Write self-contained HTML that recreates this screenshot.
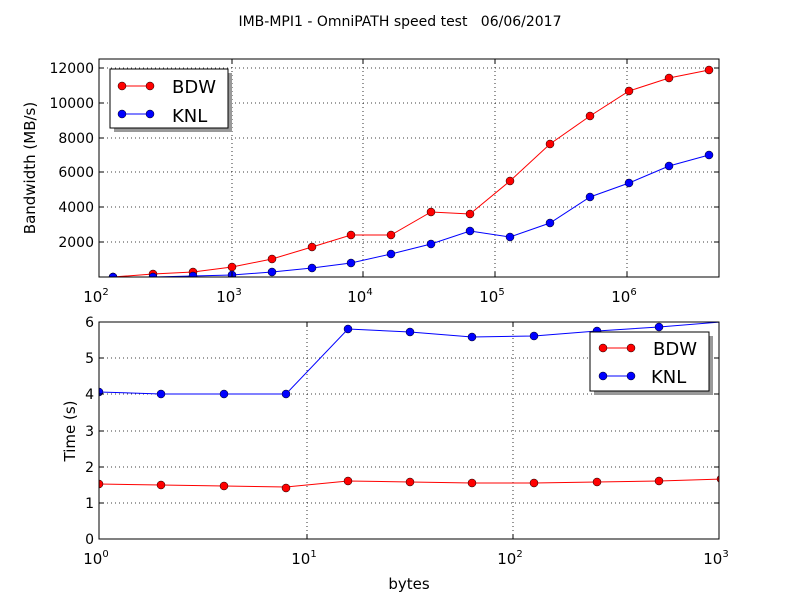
<!DOCTYPE html>
<html><head><meta charset="utf-8"><style>body{margin:0;background:#fff}svg{display:block}text{font-family:"DejaVu Sans","Liberation Sans",sans-serif;fill:#000}</style></head><body>
<svg width="800" height="600" xmlns="http://www.w3.org/2000/svg">
<rect width="800" height="600" fill="#fff"/>
<text x="400" y="26" font-size="14" text-anchor="middle">IMB-MPI1 - OmniPATH speed test&#160;&#160;&#160;06/06/2017</text>
<defs><clipPath id="c1"><rect x="99" y="59" width="620" height="218"/></clipPath><clipPath id="c2"><rect x="99" y="322" width="620" height="217"/></clipPath></defs>
<g stroke="#000" stroke-dasharray="1,3" stroke-width="0.8">
<line x1="232" y1="59" x2="232" y2="277"/><line x1="363" y1="59" x2="363" y2="277"/><line x1="495" y1="59" x2="495" y2="277"/><line x1="627" y1="59" x2="627" y2="277"/>
<line x1="99" y1="242" x2="719" y2="242"/><line x1="99" y1="207" x2="719" y2="207"/><line x1="99" y1="172" x2="719" y2="172"/><line x1="99" y1="138" x2="719" y2="138"/><line x1="99" y1="103" x2="719" y2="103"/><line x1="99" y1="68" x2="719" y2="68"/>
<line x1="307" y1="322" x2="307" y2="539"/><line x1="513" y1="322" x2="513" y2="539"/>
<line x1="99" y1="503" x2="719" y2="503"/><line x1="99" y1="467" x2="719" y2="467"/><line x1="99" y1="431" x2="719" y2="431"/><line x1="99" y1="394" x2="719" y2="394"/><line x1="99" y1="358" x2="719" y2="358"/>
</g>
<g clip-path="url(#c1)">
<polyline fill="none" stroke="#f00" points="113,277 153,274 193,272 232,267 272,259 312,247 351,235 391,235 431,212 470,214 510,181 550,144 590,116 629,91 669,78 709,70"/>
<polyline fill="none" stroke="#00f" points="113,277 153,277 193,276 232,275 272,272 312,268 351,263 391,254 431,244 470,231 510,237 550,223 590,197 629,183 669,166 709,155"/>
<g fill="#f00" stroke="#000" stroke-width="0.5"><circle cx="113" cy="277" r="4"/><circle cx="153" cy="274" r="4"/><circle cx="193" cy="272" r="4"/><circle cx="232" cy="267" r="4"/><circle cx="272" cy="259" r="4"/><circle cx="312" cy="247" r="4"/><circle cx="351" cy="235" r="4"/><circle cx="391" cy="235" r="4"/><circle cx="431" cy="212" r="4"/><circle cx="470" cy="214" r="4"/><circle cx="510" cy="181" r="4"/><circle cx="550" cy="144" r="4"/><circle cx="590" cy="116" r="4"/><circle cx="629" cy="91" r="4"/><circle cx="669" cy="78" r="4"/><circle cx="709" cy="70" r="4"/></g>
<g fill="#00f" stroke="#000" stroke-width="0.5"><circle cx="113" cy="277" r="4"/><circle cx="153" cy="277" r="4"/><circle cx="193" cy="276" r="4"/><circle cx="232" cy="275" r="4"/><circle cx="272" cy="272" r="4"/><circle cx="312" cy="268" r="4"/><circle cx="351" cy="263" r="4"/><circle cx="391" cy="254" r="4"/><circle cx="431" cy="244" r="4"/><circle cx="470" cy="231" r="4"/><circle cx="510" cy="237" r="4"/><circle cx="550" cy="223" r="4"/><circle cx="590" cy="197" r="4"/><circle cx="629" cy="183" r="4"/><circle cx="669" cy="166" r="4"/><circle cx="709" cy="155" r="4"/></g>
</g>
<g clip-path="url(#c2)">
<polyline fill="none" stroke="#f00" points="99,484 161,485 224,486 286,487 348,481 410,482 472,483 534,483 597,482 659,481 721,479"/>
<polyline fill="none" stroke="#00f" points="99,392 161,394 224,394 286,394 348,329 410,332 472,337 534,336 597,331 659,327 721,322"/>
<g fill="#f00" stroke="#000" stroke-width="0.5"><circle cx="99" cy="484" r="4"/><circle cx="161" cy="485" r="4"/><circle cx="224" cy="486" r="4"/><circle cx="286" cy="488" r="4"/><circle cx="348" cy="481" r="4"/><circle cx="410" cy="482" r="4"/><circle cx="472" cy="483" r="4"/><circle cx="534" cy="483" r="4"/><circle cx="597" cy="482" r="4"/><circle cx="659" cy="481" r="4"/><circle cx="721" cy="479" r="4"/></g>
<g fill="#00f" stroke="#000" stroke-width="0.5"><circle cx="99" cy="392" r="4"/><circle cx="161" cy="394" r="4"/><circle cx="224" cy="394" r="4"/><circle cx="286" cy="394" r="4"/><circle cx="348" cy="329" r="4"/><circle cx="410" cy="332" r="4"/><circle cx="472" cy="337" r="4"/><circle cx="534" cy="336" r="4"/><circle cx="597" cy="331" r="4"/><circle cx="659" cy="327" r="4"/></g>
</g>
<rect x="99" y="59" width="620" height="218" fill="none" stroke="#000"/>
<rect x="99" y="322" width="620" height="217" fill="none" stroke="#000"/>
<g stroke="#000">
<path d="M232 277v-5M363 277v-5M495 277v-5M627 277v-5M232 59v5M363 59v5M495 59v5M627 59v5"/>
<path d="M99 242h5M99 207h5M99 172h5M99 138h5M99 103h5M99 68h5M719 242h-5M719 207h-5M719 172h-5M719 138h-5M719 103h-5M719 68h-5"/>
<path d="M307 539v-5M513 539v-5M307 322v5M513 322v5"/>
<path d="M99 503h5M99 467h5M99 431h5M99 394h5M99 358h5M719 503h-5M719 467h-5M719 431h-5M719 394h-5M719 358h-5"/>
</g>
<g font-size="14" text-anchor="end">
<text x="94" y="247">2000</text><text x="94" y="212">4000</text><text x="94" y="177">6000</text><text x="94" y="143">8000</text><text x="94" y="108">10000</text><text x="94" y="73">12000</text>
<text x="94" y="544">0</text><text x="94" y="508">1</text><text x="94" y="472">2</text><text x="94" y="436">3</text><text x="94" y="399">4</text><text x="94" y="363">5</text><text x="94" y="327">6</text>
</g>
<g font-size="15" text-anchor="middle">
<text x="96" y="302">10<tspan font-size="10" dy="-7">2</tspan></text><text x="229" y="302">10<tspan font-size="10" dy="-7">3</tspan></text><text x="360" y="302">10<tspan font-size="10" dy="-7">4</tspan></text><text x="492" y="302">10<tspan font-size="10" dy="-7">5</tspan></text><text x="624" y="302">10<tspan font-size="10" dy="-7">6</tspan></text>
<text x="96" y="564">10<tspan font-size="10" dy="-7">0</tspan></text><text x="304" y="564">10<tspan font-size="10" dy="-7">1</tspan></text><text x="510" y="564">10<tspan font-size="10" dy="-7">2</tspan></text><text x="716" y="564">10<tspan font-size="10" dy="-7">3</tspan></text>
</g>
<text x="409" y="589" font-size="15" text-anchor="middle">bytes</text>
<text transform="translate(35,168) rotate(-90)" font-size="15" text-anchor="middle">Bandwidth (MB/s)</text>
<text transform="translate(75,431) rotate(-90)" font-size="15" text-anchor="middle">Time (s)</text>
<rect x="114" y="73" width="118" height="59" fill="#999"/>
<rect x="110" y="69" width="118" height="59" fill="#fff" stroke="#000"/>
<line x1="118" y1="86" x2="150" y2="86" stroke="#f00"/><circle cx="122" cy="86" r="4" fill="#f00" stroke="#000" stroke-width="0.5"/><circle cx="150" cy="86" r="4" fill="#f00" stroke="#000" stroke-width="0.5"/>
<text x="172" y="93" font-size="18">BDW</text>
<line x1="118" y1="114" x2="150" y2="114" stroke="#00f"/><circle cx="122" cy="114" r="4" fill="#00f" stroke="#000" stroke-width="0.5"/><circle cx="150" cy="114" r="4" fill="#00f" stroke="#000" stroke-width="0.5"/>
<text x="172" y="122" font-size="18">KNL</text>
<rect x="594" y="336" width="119" height="59" fill="#999"/>
<rect x="590" y="332" width="119" height="59" fill="#fff" stroke="#000"/>
<line x1="600" y1="348" x2="630" y2="348" stroke="#f00"/><circle cx="603" cy="348" r="4" fill="#f00" stroke="#000" stroke-width="0.5"/><circle cx="631" cy="348" r="4" fill="#f00" stroke="#000" stroke-width="0.5"/>
<text x="653" y="355" font-size="18">BDW</text>
<line x1="600" y1="376" x2="630" y2="376" stroke="#00f"/><circle cx="603" cy="376" r="4" fill="#00f" stroke="#000" stroke-width="0.5"/><circle cx="631" cy="376" r="4" fill="#00f" stroke="#000" stroke-width="0.5"/>
<text x="651" y="383" font-size="18">KNL</text>
</svg>
</body></html>
